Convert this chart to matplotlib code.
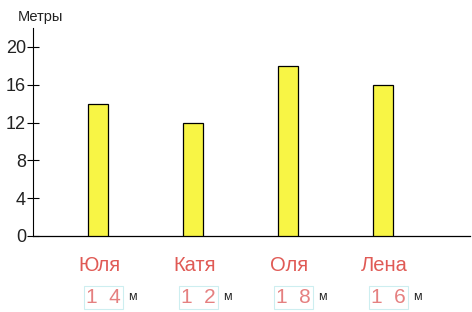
import matplotlib.pyplot as plt

# data
names = ['Юля', 'Катя', 'Оля', 'Лена']
metres = [14, 12, 18, 16]
yticks = [0, 4, 8, 12, 16, 20]

plt.rcParams['font.family'] = ['Liberation Sans', 'DejaVu Sans']

fig = plt.figure(figsize=(4.72, 3.12), dpi=100)
ax = fig.add_axes([33 / 472, 76 / 312, 437 / 472, 208 / 312])

xs = list(range(len(names)))
ax.bar(xs, metres, width=0.21, color='#f8f545', edgecolor='black', linewidth=0.9, zorder=3)

ax.set_xlim(-0.684, 3.916)
ax.set_ylim(0, 22)
ax.set_yticks(yticks)
ax.set_yticklabels([str(t) for t in yticks], fontsize=13, color='#222222')
ax.set_xticks([])
ax.tick_params(axis='y', direction='inout', length=8, width=0.8, pad=1)
for s in ['top', 'right']:
    ax.spines[s].set_visible(False)
ax.spines['left'].set_linewidth(0.8)
ax.spines['bottom'].set_linewidth(0.9)

fig.text(18 / 472, 1 - 17 / 312, 'Метры', fontsize=10.5, va='center', ha='left', color='#222222')

# names and values under the bars
for i, (n, v) in enumerate(zip(names, metres)):
    ax.annotate(n, (i, 0), xytext=(1, -21), textcoords='offset points',
                ha='center', va='center', fontsize=14.5, color='#e05a55')
    digits = '  '.join(str(v))
    ax.annotate(digits, (i, 0), xytext=(4, -44), textcoords='offset points',
                ha='center', va='center', fontsize=15, color='#e58080',
                bbox=dict(boxstyle='square,pad=0.1', fc='none', ec='#cdeef0', lw=0.8))
    ax.annotate('м', (i, 0), xytext=(25, -44), textcoords='offset points',
                ha='center', va='center', fontsize=9, color='#222222')

fig.savefig('out.png', dpi=100)
